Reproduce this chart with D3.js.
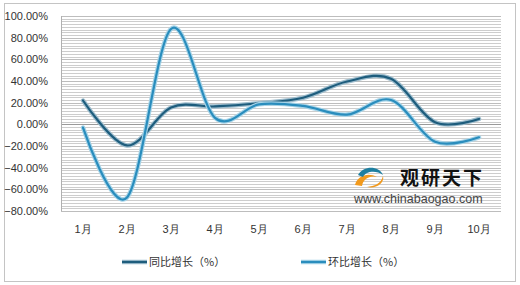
<!DOCTYPE html>
<html lang="zh">
<head>
<meta charset="UTF-8">
<title>同比增长 / 环比增长</title>
<script src="https://d3js.org/d3.v7.min.js"></script>
<style>
    body { margin: 0; background: #fff; }
    svg { display: block; font-family: "Liberation Sans", Arial, "Noto Sans CJK SC", sans-serif; }
    .axis text { fill: #333; font-size: 11px; }
</style>
</head>
<body>
<div id="chart"></div>
<script>
    // data
    var months = ["1月", "2月", "3月", "4月", "5月", "6月", "7月", "8月", "9月", "10月"];
    var yoy = [22, -19.5, 15.5, 16.5, 19.5, 24.5, 39.5, 42, 2, 5];      // 同比增长（%）
    var mom = [-3, -67.5, 88, 6, 18.5, 17, 9, 22.5, -16, -12];         // 环比增长（%）
    var yTicks = [100, 80, 60, 40, 20, 0, -20, -40, -60, -80];
    var seriesNames = ["同比增长（%）", "环比增长（%）"];

    var width = 520, height = 285;
    var margin = { top: 16, right: 19, bottom: 75, left: 61 };

    var svg = d3.select("#chart").append("svg")
        .attr("width", width)
        .attr("height", height);

    // outer frame
    svg.append("rect")
        .attr("x", 4.5).attr("y", 3.5)
        .attr("width", 511).attr("height", 278)
        .attr("fill", "#fff")
        .attr("stroke", "#c4c4c4");

    var x = d3.scaleBand()
        .domain(months)
        .range([margin.left, width - margin.right]);

    var y = d3.scaleLinear()
        .domain([-80, 100])
        .range([height - margin.bottom + 1, margin.top]);

    // dense striped gridlines
    var minor = d3.range(-80, 100.1, 2.5);
    svg.append("g").selectAll("line")
        .data(minor)
        .enter().append("line")
        .attr("x1", margin.left).attr("x2", width - margin.right)
        .attr("y1", function(d) { return Math.round(y(d)) + 0.5; })
        .attr("y2", function(d) { return Math.round(y(d)) + 0.5; })
        .attr("stroke", function(d) { return d === 0 ? "#9a9a9a" : (d % 20 === 0 ? "#bdbdbd" : "#cdcdcd"); });

    // left axis line
    svg.append("line")
        .attr("x1", margin.left + 0.5).attr("x2", margin.left + 0.5)
        .attr("y1", y(100)).attr("y2", y(-80))
        .attr("stroke", "#b0b0b0");

    // y labels
    svg.append("g")
        .attr("class", "axis")
        .attr("transform", "translate(" + (margin.left - 10) + ",0)")
        .call(d3.axisLeft(y).tickValues(yTicks).tickSize(0)
            .tickFormat(function(d) { return d3.format(".2f")(d) + "%"; }))
        .call(function(g) { g.select(".domain").remove(); });

    // x labels
    svg.append("g")
        .attr("class", "axis")
        .attr("transform", "translate(0," + (y(-80) + 11) + ")")
        .call(d3.axisBottom(x).tickSize(0))
        .call(function(g) { g.select(".domain").remove(); });

    // watermark
    var wm = svg.append("g").attr("transform", "translate(354,166)");
    wm.append("path")
        .attr("d", "M1,19 C3,10 14,6 23,11 C16,9 9,13 8,20 Z")
        .attr("fill", "#f29a1d");
    wm.append("path")
        .attr("d", "M4,9 C10,-1 25,0 29,9 C22,4 12,5 9,11 Z")
        .attr("fill", "#1e7fa0");
    wm.append("path")
        .attr("d", "M13,21 C22,23 31,17 29,10 C27,18 20,20 13,21 Z")
        .attr("fill", "#f29a1d");
    wm.append("text")
        .attr("x", 46).attr("y", 19)
        .attr("font-family", "Noto Sans CJK SC")
        .attr("font-weight", "bold")
        .attr("font-size", 19)
        .attr("letter-spacing", 2)
        .attr("fill", "#111")
        .text("观研天下");
    wm.append("text")
        .attr("x", 0).attr("y", 37)
        .attr("font-size", 12.5)
        .attr("fill", "#444")
        .text("www.chinabaogao.com");

    var colors = ["#1e5d7d", "#2a8dbd"];
    var halos = ["#9dbccc", "#a6d3e7"];

    var line = d3.line()
        .x(function(d, i) { return x(months[i]) + x.bandwidth() / 2; })
        .y(function(d) { return y(d); })
        .curve(d3.curveCatmullRom.alpha(0));

    [yoy, mom].forEach(function(values, k) {
        svg.append("path")
            .attr("d", line(values))
            .attr("fill", "none")
            .attr("stroke", halos[k])
            .attr("stroke-width", 4.5)
            .attr("stroke-linecap", "round");
        svg.append("path")
            .attr("d", line(values))
            .attr("fill", "none")
            .attr("stroke", colors[k])
            .attr("stroke-width", 2.2)
            .attr("stroke-linecap", "round");
    });

    // legend
    var legend = svg.selectAll(".legend")
        .data(seriesNames)
        .enter().append("g")
        .attr("class", "legend")
        .attr("transform", function(d, i) { return "translate(" + (122 + i * 179) + ",262)"; });

    legend.append("line")
        .attr("x1", 0).attr("x2", 25)
        .attr("stroke", function(d, i) { return halos[i]; })
        .attr("stroke-width", 4.5);
    legend.append("line")
        .attr("x1", 0).attr("x2", 25)
        .attr("stroke", function(d, i) { return colors[i]; })
        .attr("stroke-width", 2.2);
    legend.append("text")
        .attr("x", 27)
        .attr("dy", "0.35em")
        .attr("font-family", "Noto Sans CJK SC")
        .attr("font-size", 11)
        .attr("fill", "#333")
        .text(function(d) { return d; });
</script>
</body>
</html>
